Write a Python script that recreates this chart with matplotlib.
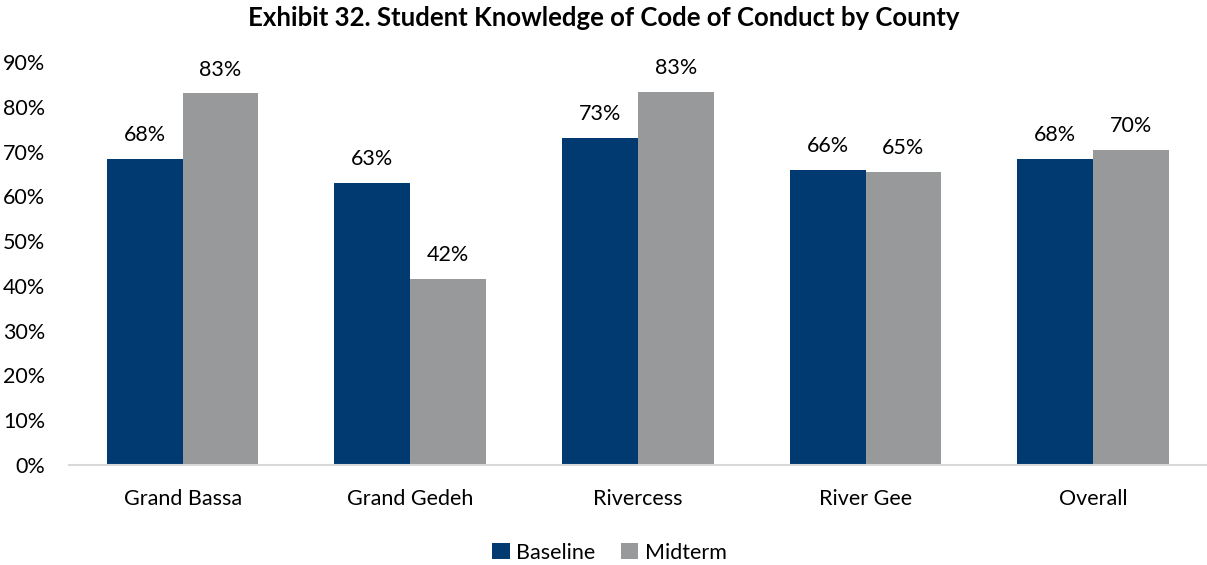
import matplotlib
matplotlib.use("Agg")
import matplotlib.pyplot as plt
import numpy as np

categories = ["Grand Bassa", "Grand Gedeh", "Rivercess", "River Gee", "Overall"]
baseline = [68.4, 63.1, 73.0, 66.0, 68.4]
midterm = [83.0, 41.5, 83.3, 65.5, 70.3]
baseline_labels = ["68%", "63%", "73%", "66%", "68%"]
midterm_labels = ["83%", "42%", "83%", "65%", "70%"]
yticks = [0, 10, 20, 30, 40, 50, 60, 70, 80, 90]
ytick_labels = [f"{v}%" for v in yticks]

plt.rcParams['font.family'] = ['Lato', 'DejaVu Sans']

fig = plt.figure(figsize=(12.07, 5.65), dpi=100)
ax = fig.add_axes([0.057, 0.177, 0.943, 0.713])

navy = "#003A70"
gray = "#98999B"
fs = 15.5
x = np.arange(len(categories))
w = 0.333
b1 = ax.bar(x - w/2, baseline, w, color=navy, label="Baseline")
b2 = ax.bar(x + w/2, midterm, w, color=gray, label="Midterm")

for rect, lab in zip(b1, baseline_labels):
    ax.annotate(lab, (rect.get_x() + rect.get_width()/2, rect.get_height()),
                xytext=(0, 10), textcoords="offset points", ha="center", va="bottom",
                fontsize=fs, color="#000000")
for rect, lab in zip(b2, midterm_labels):
    ax.annotate(lab, (rect.get_x() + rect.get_width()/2, rect.get_height()),
                xytext=(0, 10), textcoords="offset points", ha="center", va="bottom",
                fontsize=fs, color="#000000")

ax.set_xlim(-0.5, len(categories) - 0.5)
ax.set_ylim(0, 90)
ax.set_yticks(yticks)
ax.set_yticklabels(ytick_labels, fontsize=fs)
ax.set_xticks(x)
ax.set_xticklabels(categories, fontsize=fs)
ax.tick_params(axis='both', length=0)
ax.tick_params(axis='y', pad=17)
ax.tick_params(axis='x', pad=17)
for s in ["top", "right", "left"]:
    ax.spines[s].set_visible(False)
ax.spines["bottom"].set_color("#D9D9D9")
ax.spines["bottom"].set_linewidth(1.5)

fig.suptitle("Exhibit 32. Student Knowledge of Code of Conduct by County",
             fontsize=18.5, fontweight="bold", y=0.99)

fig.legend(handles=[b1, b2], labels=["Baseline", "Midterm"], loc="lower center",
           bbox_to_anchor=(0.505, -0.03), ncol=2, frameon=False, fontsize=fs,
           handlelength=0.8, handleheight=0.8, handletextpad=0.3, columnspacing=1.2)

fig.savefig("out.png", dpi=100)
